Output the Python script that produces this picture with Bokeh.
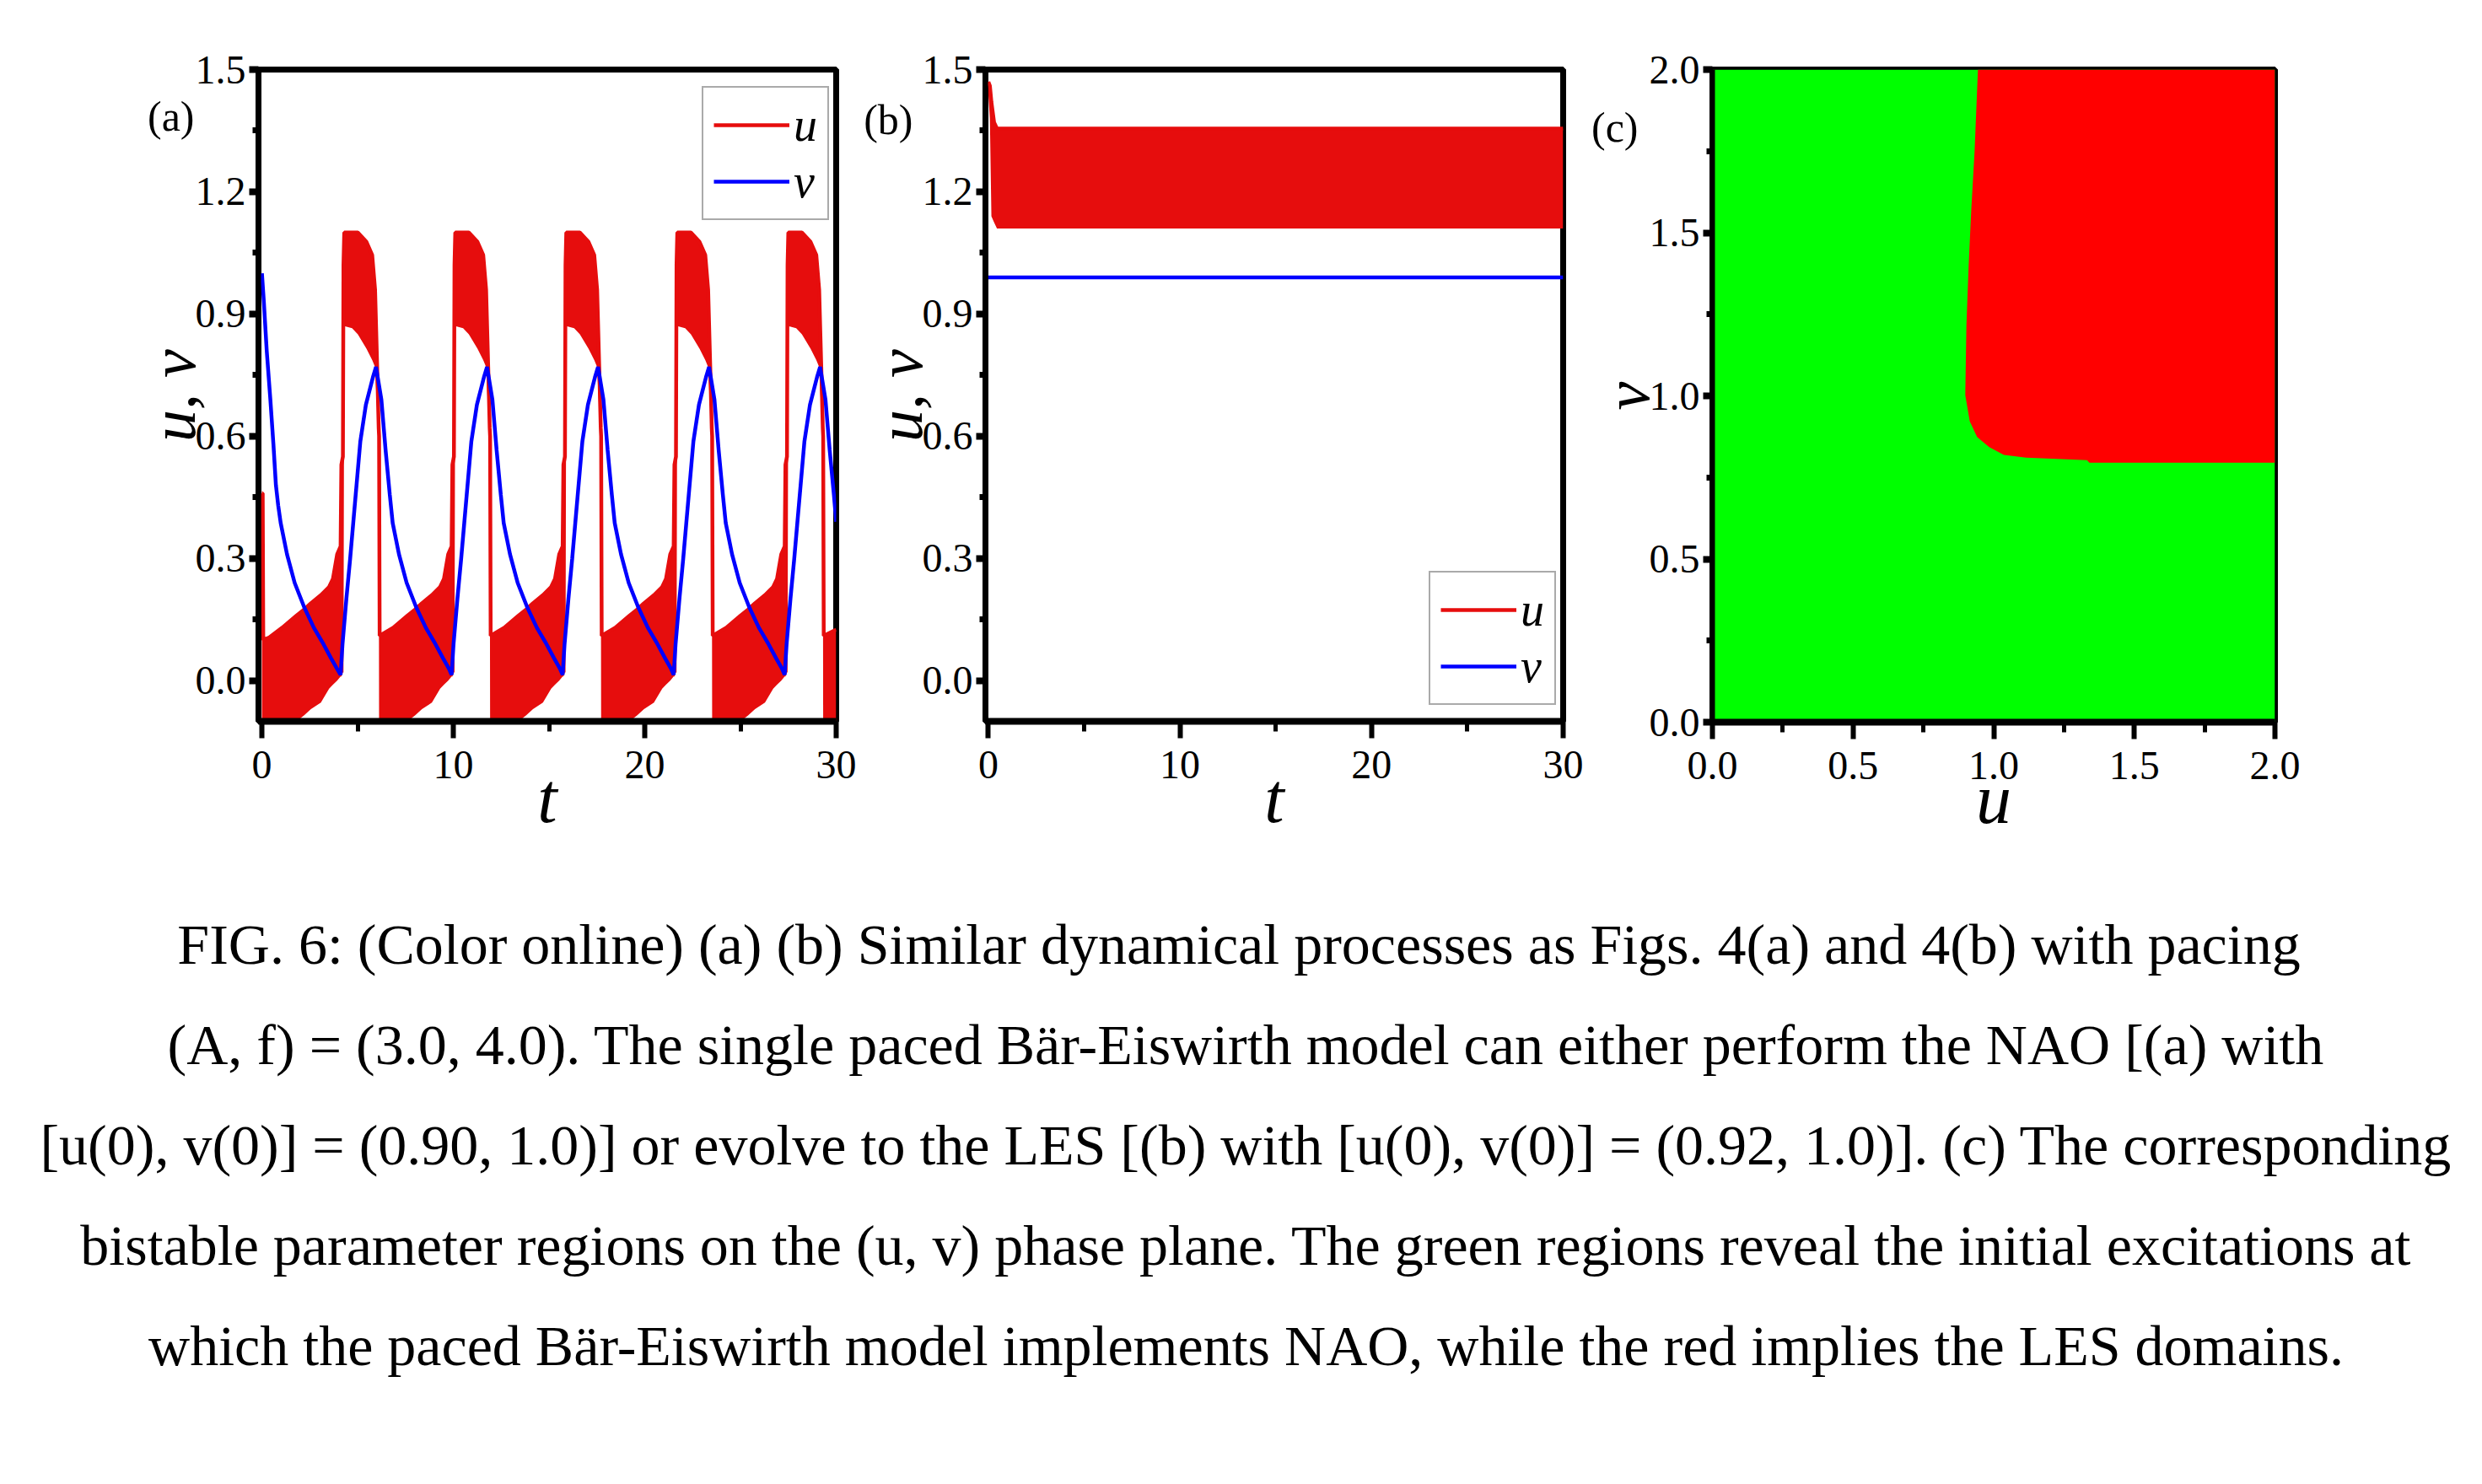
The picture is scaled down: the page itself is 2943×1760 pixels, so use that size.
from bokeh.plotting import figure
from bokeh.models import (Range1d, FixedTicker, PrintfTickFormatter, LinearAxis,
                          Legend, LegendItem)
from bokeh.layouts import row, column
from bokeh.embed import file_html
from bokeh.resources import INLINE
from bokeh.core.properties import value

# ---------------- data ----------------
# panel (a): v(t) (blue)
T_V_A = [0.0, 0.1, 0.25, 0.44, 0.6, 0.73, 0.85, 0.98, 1.31, 1.71, 2.21, 2.71, 3.21, 3.61, 3.91, 4.11,
         4.21, 4.41, 4.61, 4.77, 5.14, 5.43, 5.8, 5.96,
         6.24, 6.46, 6.68, 6.83, 7.16, 7.56, 8.06, 8.56, 9.06, 9.46, 9.76, 9.91,
         10.01, 10.21, 10.41, 10.57, 10.94, 11.23, 11.6, 11.76,
         12.04, 12.26, 12.48, 12.63, 12.96, 13.36, 13.86, 14.36, 14.86, 15.26, 15.56, 15.71,
         15.81, 16.01, 16.21, 16.37, 16.74, 17.03, 17.4, 17.56,
         17.84, 18.06, 18.28, 18.43, 18.76, 19.16, 19.66, 20.16, 20.66, 21.06, 21.36, 21.51,
         21.61, 21.81, 22.01, 22.17, 22.54, 22.83, 23.2, 23.36,
         23.64, 23.86, 24.08, 24.23, 24.56, 24.96, 25.46, 25.96, 26.46, 26.86, 27.16, 27.31,
         27.41, 27.61, 27.81, 27.97, 28.34, 28.63, 29.0, 29.16,
         29.44, 29.66, 29.88, 30.0]
V_A = [1.0, 0.93, 0.81, 0.69, 0.58, 0.48, 0.43, 0.387, 0.31, 0.24, 0.18, 0.13, 0.09, 0.055, 0.03, 0.014,
       0.09, 0.2, 0.30, 0.387, 0.587, 0.677, 0.745, 0.77,
       0.69, 0.566, 0.456, 0.387, 0.31, 0.24, 0.18, 0.13, 0.09, 0.055, 0.03, 0.014,
       0.09, 0.2, 0.30, 0.387, 0.587, 0.677, 0.745, 0.77,
       0.69, 0.566, 0.456, 0.387, 0.31, 0.24, 0.18, 0.13, 0.09, 0.055, 0.03, 0.014,
       0.09, 0.2, 0.30, 0.387, 0.587, 0.677, 0.745, 0.77,
       0.69, 0.566, 0.456, 0.387, 0.31, 0.24, 0.18, 0.13, 0.09, 0.055, 0.03, 0.014,
       0.09, 0.2, 0.30, 0.387, 0.587, 0.677, 0.745, 0.77,
       0.69, 0.566, 0.456, 0.387, 0.31, 0.24, 0.18, 0.13, 0.09, 0.055, 0.03, 0.014,
       0.09, 0.2, 0.30, 0.387, 0.587, 0.677, 0.745, 0.77,
       0.69, 0.566, 0.456, 0.39]

# panel (a): u(t) (red) - envelope of the fast paced oscillation
T_U_A = [0.0, 0.04, 0.07, 0.35,
         1.06, 1.81, 2.21, 2.56, 3.08, 3.51, 3.71, 3.93, 4.11, 4.15, 4.23, 4.26, 4.30, 4.71, 5.01, 5.46, 5.76, 5.91, 6.02, 6.10, 6.12,
         6.15, 6.86, 7.61, 8.01, 8.36, 8.88, 9.31, 9.51, 9.73, 9.91, 9.95, 10.03, 10.06, 10.10, 10.51, 10.81, 11.26, 11.56, 11.71, 11.82, 11.90, 11.92,
         11.95, 12.66, 13.41, 13.81, 14.16, 14.68, 15.11, 15.31, 15.53, 15.71, 15.75, 15.83, 15.86, 15.90, 16.31, 16.61, 17.06, 17.36, 17.51, 17.62, 17.70, 17.72,
         17.75, 18.46, 19.21, 19.61, 19.96, 20.48, 20.91, 21.11, 21.33, 21.51, 21.55, 21.63, 21.66, 21.70, 22.11, 22.41, 22.86, 23.16, 23.31, 23.42, 23.50, 23.52,
         23.55, 24.26, 25.01, 25.41, 25.76, 26.28, 26.71, 26.91, 27.13, 27.31, 27.35, 27.43, 27.46, 27.50, 27.91, 28.21, 28.66, 28.96, 29.11, 29.22, 29.30, 29.32,
         29.35, 30.0]
U_A_UPPER = [0.46, 0.46, 0.10, 0.105,
             0.13, 0.16, 0.175, 0.19, 0.21, 0.23, 0.25, 0.31, 0.33, 0.53, 0.55, 1.02, 1.10, 1.10, 1.10, 1.077, 1.045, 0.96, 0.77, 0.62, 0.60,
             0.11, 0.13, 0.16, 0.175, 0.19, 0.21, 0.23, 0.25, 0.31, 0.33, 0.53, 0.55, 1.02, 1.10, 1.10, 1.10, 1.077, 1.045, 0.96, 0.77, 0.62, 0.60,
             0.11, 0.13, 0.16, 0.175, 0.19, 0.21, 0.23, 0.25, 0.31, 0.33, 0.53, 0.55, 1.02, 1.10, 1.10, 1.10, 1.077, 1.045, 0.96, 0.77, 0.62, 0.60,
             0.11, 0.13, 0.16, 0.175, 0.19, 0.21, 0.23, 0.25, 0.31, 0.33, 0.53, 0.55, 1.02, 1.10, 1.10, 1.10, 1.077, 1.045, 0.96, 0.77, 0.62, 0.60,
             0.11, 0.13, 0.16, 0.175, 0.19, 0.21, 0.23, 0.25, 0.31, 0.33, 0.53, 0.55, 1.02, 1.10, 1.10, 1.10, 1.077, 1.045, 0.96, 0.77, 0.62, 0.60,
             0.11, 0.125]
U_A_LOWER = [-0.1, -0.1, -0.1, -0.1,
             -0.1, -0.1, -0.085, -0.07, -0.054, -0.02, -0.01, 0.0, 0.01, 0.01, 0.02, 0.02, 0.87, 0.865, 0.85, 0.815, 0.787, 0.77, 0.66, 0.55, -0.1,
             -0.1, -0.1, -0.1, -0.085, -0.07, -0.054, -0.02, -0.01, 0.0, 0.01, 0.01, 0.02, 0.02, 0.87, 0.865, 0.85, 0.815, 0.787, 0.77, 0.66, 0.55, -0.1,
             -0.1, -0.1, -0.1, -0.085, -0.07, -0.054, -0.02, -0.01, 0.0, 0.01, 0.01, 0.02, 0.02, 0.87, 0.865, 0.85, 0.815, 0.787, 0.77, 0.66, 0.55, -0.1,
             -0.1, -0.1, -0.1, -0.085, -0.07, -0.054, -0.02, -0.01, 0.0, 0.01, 0.01, 0.02, 0.02, 0.87, 0.865, 0.85, 0.815, 0.787, 0.77, 0.66, 0.55, -0.1,
             -0.1, -0.1, -0.1, -0.085, -0.07, -0.054, -0.02, -0.01, 0.0, 0.01, 0.01, 0.02, 0.02, 0.87, 0.865, 0.85, 0.815, 0.787, 0.77, 0.66, 0.55, -0.1,
             -0.1, -0.1]

# panel (b)
T_U_B = [0.0, 0.08, 0.16, 0.3, 0.45, 30.0]
U_B_UPPER = [1.47, 1.46, 1.42, 1.37, 1.355, 1.355]
U_B_LOWER = [1.44, 1.38, 1.14, 1.125, 1.11, 1.11]
T_V_B = [0.0, 30.0]
V_B = [0.99, 0.99]

# panel (c): (u, v) phase plane, LES (red) domain boundary; the rest is NAO (green)
DOMAIN_U = [0.0, 2.0, 2.0, 0.0]
DOMAIN_V = [0.0, 0.0, 2.0, 2.0]
LES_U = [0.944, 0.932, 0.920, 0.911, 0.903, 0.899, 0.915, 0.941, 0.984, 1.036, 1.115, 1.332, 1.34, 2.0, 2.0]
LES_V = [2.0, 1.749, 1.566, 1.399, 1.216, 1.002, 0.922, 0.874, 0.843, 0.819, 0.811, 0.803, 0.795, 0.795, 2.0]

# ticks
X_TICKS_T = [0, 10, 20, 30]
X_MINOR_T = [5, 15, 25]
Y_TICKS_UV = [0.0, 0.3, 0.6, 0.9, 1.2, 1.5]
Y_MINOR_UV = [0.15, 0.45, 0.75, 1.05, 1.35]
TICKS_C = [0.0, 0.5, 1.0, 1.5, 2.0]
MINOR_C = [0.25, 0.75, 1.25, 1.75]

PANEL_TAGS = ["(a)", "(b)", "(c)"]

CAPTION_LINES = [
    "FIG. 6:  (Color online) (a) (b) Similar dynamical processes as Figs. 4(a) and 4(b) with pacing",
    "(A, f) = (3.0, 4.0). The single paced Bär-Eiswirth model can either perform the NAO [(a) with",
    "[u(0), v(0)] = (0.90, 1.0)] or evolve to the LES [(b) with [u(0), v(0)] = (0.92, 1.0)]. (c) The corresponding",
    "bistable parameter regions on the (u, v) phase plane. The green regions reveal the initial excitations at",
    "which the paced Bär-Eiswirth model implements NAO, while the red implies the LES domains.",
]

# ---------------- styling ----------------
SERIF = "Liberation Serif"
RED_TRACE = "#e60d0d"
BLUE_TRACE = "#0000ff"
TICK_FONT = "48px"
XLABEL_FONT = "84px"
YLABEL_FONT = "76px"
ROW_H = 1020


def make_fig(left, right, top, fw, fh, xr, yr):
    p = figure(frame_width=fw, frame_height=fh, x_range=xr, y_range=yr,
               output_backend="svg", toolbar_location=None,
               min_border_left=left, min_border_right=right,
               min_border_top=top, min_border_bottom=ROW_H - top - fh)
    p.grid.visible = False
    p.background_fill_color = "white"
    p.border_fill_color = "white"
    p.outline_line_color = "black"
    p.outline_line_width = 7
    p.outline_line_alpha = 1.0
    return p


def style_axes(p, xt, xm, yt, ym, xfmt, yfmt, xlabel, ylabel):
    ax = p.xaxis[0]
    ax.ticker = FixedTicker(ticks=xt, minor_ticks=xm)
    ax.formatter = PrintfTickFormatter(format=xfmt)
    ax.axis_label = xlabel
    ax.axis_label_text_font_size = XLABEL_FONT
    ax.axis_line_width = 8
    ax.major_tick_out, ax.major_tick_in, ax.major_tick_line_width = 20, 0, 6
    ax.minor_tick_out, ax.minor_tick_in, ax.minor_tick_line_width = 12, 0, 5
    ax.major_label_standoff = 15
    ax.axis_label_standoff = -26
    ay = p.yaxis[0]
    ay.ticker = FixedTicker(ticks=yt, minor_ticks=ym)
    ay.formatter = PrintfTickFormatter(format=yfmt)
    ay.axis_label = ylabel
    ay.axis_label_text_font_size = YLABEL_FONT
    ay.axis_line_width = 6
    ay.major_tick_out, ay.major_tick_in, ay.major_tick_line_width = 11, 0, 8
    ay.minor_tick_out, ay.minor_tick_in, ay.minor_tick_line_width = 7, 0, 7
    ay.major_label_standoff = 4
    ay.axis_label_standoff = -18
    ay.major_label_orientation = "horizontal"
    for a in (ax, ay):
        a.axis_line_color = "black"
        a.major_tick_line_color = "black"
        a.minor_tick_line_color = "black"
        a.major_label_text_font = SERIF
        a.major_label_text_font_size = TICK_FONT
        a.major_label_text_color = "black"
        a.axis_label_text_font = SERIF
        a.axis_label_text_font_style = "italic"
        a.axis_label_text_color = "black"


def panel_tag(p, text, y_at, pull):
    # panel tag "(a)" etc.: a bare, line-less secondary left axis with one tick,
    # pulled back (negative standoff) next to the main y axis
    tag = LinearAxis(ticker=FixedTicker(ticks=[y_at], minor_ticks=[]),
                     formatter=PrintfTickFormatter(format=text))
    tag.axis_line_color = None
    tag.major_tick_line_color = None
    tag.minor_tick_line_color = None
    tag.major_tick_out = 0
    tag.major_tick_in = 0
    tag.minor_tick_out = 0
    tag.minor_tick_in = 0
    tag.major_label_standoff = pull
    tag.major_label_text_font = SERIF
    tag.major_label_text_font_size = "50px"
    tag.major_label_text_color = "black"
    p.add_layout(tag, "left")


def add_legend(p, r_u, r_v, loc):
    leg = Legend(items=[LegendItem(label=value("u"), renderers=[r_u]),
                        LegendItem(label=value("v"), renderers=[r_v])],
                 location=loc)
    leg.label_text_font = SERIF
    leg.label_text_font_style = "italic"
    leg.label_text_font_size = "56px"
    leg.label_text_color = "black"
    leg.glyph_width = 90
    leg.glyph_height = 60
    leg.label_height = 60
    leg.label_standoff = 5
    leg.padding = 12
    leg.spacing = 3
    leg.margin = 0
    leg.border_line_color = "#555555"
    leg.border_line_width = 2
    leg.background_fill_color = "white"
    leg.background_fill_alpha = 1.0
    p.add_layout(leg)


# ---------------- panel (a) ----------------
pa = make_fig(306, 26, 82, 685, 773, Range1d(-0.18, 30.0), Range1d(-0.1, 1.5))
style_axes(pa, X_TICKS_T, X_MINOR_T, Y_TICKS_UV, Y_MINOR_UV, "%d", "%.1f", "t", "u, v")
pa.varea(x=T_U_A, y1=U_A_LOWER, y2=U_A_UPPER, fill_color=RED_TRACE, fill_alpha=1.0)
ra_u = pa.line(T_U_A, U_A_UPPER, line_color=RED_TRACE, line_width=4.5)
ra_v = pa.line(T_V_A, V_A, line_color=BLUE_TRACE, line_width=4.5)
add_legend(pa, ra_u, ra_v, (526, 594))
panel_tag(pa, PANEL_TAGS[0], 1.386, -71)

# ---------------- panel (b) ----------------
pb = make_fig(151, 27, 82, 685, 773, Range1d(-0.15, 30.0), Range1d(-0.1, 1.5))
style_axes(pb, X_TICKS_T, X_MINOR_T, Y_TICKS_UV, Y_MINOR_UV, "%d", "%.1f", "t", "u, v")
pb.varea(x=T_U_B, y1=U_B_LOWER, y2=U_B_UPPER, fill_color=RED_TRACE, fill_alpha=1.0)
rb_u = pb.line(T_U_B, U_B_UPPER, line_color=RED_TRACE, line_width=4.5)
rb_v = pb.line(T_V_B, V_B, line_color=BLUE_TRACE, line_width=4.5)
add_legend(pb, rb_u, rb_v, (526, 19))
panel_tag(pb, PANEL_TAGS[1], 1.377, -61)

# ---------------- panel (c) ----------------
pc = make_fig(150, 246, 81, 667, 774, Range1d(0.0, 2.0), Range1d(0.0, 2.0))
style_axes(pc, TICKS_C, MINOR_C, TICKS_C, MINOR_C, "%.1f", "%.1f", "u", "v")
pc.patch(DOMAIN_U, DOMAIN_V, fill_color="#00ff00", line_color=None)
pc.patch(LES_U, LES_V, fill_color="#ff0000", line_color=None)
panel_tag(pc, PANEL_TAGS[2], 1.823, -59)

# ---------------- caption ----------------
CAP_H = 1760 - ROW_H
cap = figure(width=2943, height=CAP_H, x_range=Range1d(0, 2943), y_range=Range1d(CAP_H, 0),
             output_backend="svg", toolbar_location=None,
             x_axis_location=None, y_axis_location=None, min_border=0)
cap.grid.visible = False
cap.outline_line_color = None
cap.background_fill_color = "white"
cap.border_fill_color = "white"
first_baseline, line_step = 99, 119
cap.text(x=[1477] * len(CAPTION_LINES),
         y=[first_baseline + i * line_step for i in range(len(CAPTION_LINES))],
         text=CAPTION_LINES, text_font=value(SERIF), text_font_size=value("68px"),
         text_align="center", text_baseline="alphabetic", text_color="black")

layout = column(row(pa, pb, pc), cap)
open("out.html", "w").write(file_html(layout, INLINE))
